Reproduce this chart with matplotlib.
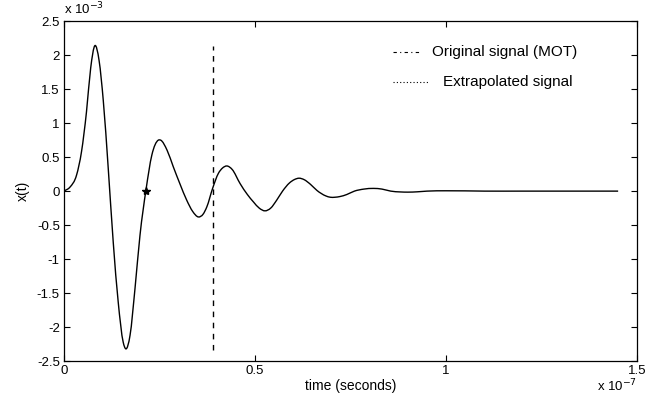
import numpy as np
import matplotlib
matplotlib.use("Agg")
import matplotlib.pyplot as plt
from matplotlib.path import Path
from matplotlib.patches import PathPatch

plt.rcParams['font.family'] = ['Liberation Sans', 'DejaVu Sans']

# time in units of 1e-7 s, signal in units of 1e-3
t_orig = [0.0, 0.016, 0.033, 0.046, 0.059, 0.070, 0.081, 0.092, 0.103, 0.116,
          0.129, 0.142, 0.155, 0.162, 0.173, 0.186, 0.199, 0.215, 0.230, 0.247,
          0.253, 0.270, 0.286, 0.304, 0.321, 0.337, 0.352, 0.364, 0.374, 0.389]
x_orig = [0.0, 0.06, 0.235, 0.58, 1.165, 1.81, 2.14, 1.92, 1.33, 0.33,
          -0.75, -1.63, -2.22, -2.32, -2.12, -1.43, -0.65, 0.03, 0.53, 0.75,
          0.75, 0.60, 0.36, 0.10, -0.13, -0.30, -0.38, -0.34, -0.23, 0.04]

t_extr = [0.389, 0.404, 0.415, 0.426, 0.440, 0.461, 0.480, 0.496, 0.511, 0.526,
          0.541, 0.557, 0.572, 0.590, 0.603, 0.615, 0.628, 0.645, 0.662, 0.685,
          0.697, 0.709, 0.722, 0.740, 0.760, 0.785, 0.810, 0.832, 0.855, 0.880,
          0.900, 0.925, 0.950, 1.000, 1.100, 1.200, 1.300, 1.450]
x_extr = [0.04, 0.26, 0.34, 0.37, 0.32, 0.11, -0.05, -0.16, -0.25, -0.29,
          -0.25, -0.13, 0.0, 0.12, 0.17, 0.19, 0.17, 0.10, 0.01, -0.07,
          -0.09, -0.09, -0.08, -0.05, 0.0, 0.03, 0.04, 0.03, 0.0, -0.012,
          -0.015, -0.01, 0.0, 0.005, 0.0, 0.0, 0.0, 0.0]

t_split = 0.39          # end of the MOT signal
split_range = [-2.34, 2.13]
t_star, x_star = 0.215, 0.0


def smooth_path(t, y):
    # cubic Hermite segments written as Bezier curves
    t = np.asarray(t, float)
    y = np.asarray(y, float)
    h = np.diff(t)
    d = np.diff(y) / h
    m = np.empty_like(y)
    m[0], m[-1] = d[0], d[-1]
    m[1:-1] = (d[1:] * h[:-1] + d[:-1] * h[1:]) / (h[:-1] + h[1:])
    verts = [(t[0], y[0])]
    codes = [Path.MOVETO]
    for i in range(len(h)):
        verts += [(t[i] + h[i] / 3, y[i] + m[i] * h[i] / 3),
                  (t[i + 1] - h[i] / 3, y[i + 1] - m[i + 1] * h[i] / 3),
                  (t[i + 1], y[i + 1])]
        codes += [Path.CURVE4] * 3
    return Path(verts, codes)


fig = plt.figure(figsize=(6.59, 3.99), dpi=100)
ax = fig.add_axes([0.097, 0.095, 0.870, 0.852])

t_all = t_orig + t_extr[1:]
x_all = x_orig + x_extr[1:]
ax.add_patch(PathPatch(smooth_path(t_all, x_all), facecolor='none',
                       edgecolor='black', linewidth=1.0))
ax.plot([t_split, t_split], split_range, color='black', linewidth=1.0,
        linestyle=(0, (4, 4)))
ax.plot(t_star, x_star, marker='*', color='black', markersize=6)

ax.set_xlim(0, 1.5)
ax.set_ylim(-2.5, 2.5)
ax.set_xticks([0, 0.5, 1, 1.5])
ax.set_xticklabels(['0', '0.5', '1', '1.5'])
yt = np.arange(-2.5, 2.51, 0.5)
ax.set_yticks(yt)
ax.set_yticklabels(['%g' % v for v in yt])
ax.tick_params(direction='in', length=4, width=0.8, top=True, right=True,
               labelsize=9.5, pad=3)
for s in ax.spines.values():
    s.set_linewidth(0.9)

ax.set_xlabel('time (seconds)', fontsize=10, labelpad=1)
ax.set_ylabel('x(t)', fontsize=10, labelpad=5)

# exponent labels
ax.text(0.0, 1.012, r'x 10$^{-3}$', transform=ax.transAxes, fontsize=9.5,
        ha='left', va='bottom')
ax.text(1.0, -0.048, r'x 10$^{-7}$', transform=ax.transAxes, fontsize=9.5,
        ha='right', va='top')

# legend entries
ax.plot([0.574, 0.621], [0.909, 0.909], transform=ax.transAxes,
        color='black', linewidth=0.8, linestyle=(0, (3, 3, 1, 3)))
ax.text(0.642, 0.909, 'Original signal (MOT)', transform=ax.transAxes,
        fontsize=11, ha='left', va='center')
ax.plot([0.574, 0.635], [0.821, 0.821], transform=ax.transAxes,
        color='black', linewidth=0.8, linestyle=(0, (1, 2)))
ax.text(0.661, 0.821, 'Extrapolated signal', transform=ax.transAxes,
        fontsize=11, ha='left', va='center')

fig.savefig('out.png', dpi=100)
